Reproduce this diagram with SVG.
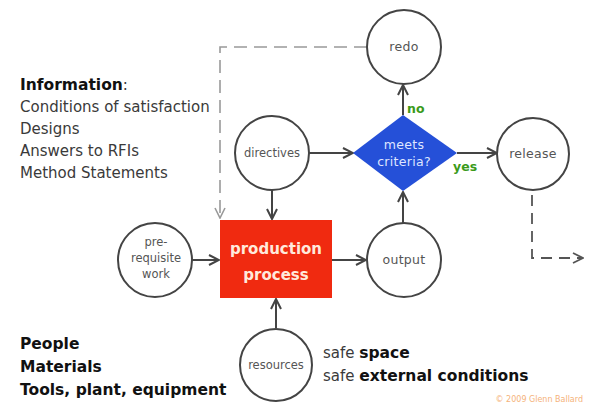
<svg xmlns="http://www.w3.org/2000/svg" width="592" height="412" viewBox="0 0 592 412">
<defs>
<style>
.node{fill:#fff;stroke:#444;stroke-width:2}
.lbl{font-family:"DejaVu Sans",Verdana,sans-serif;font-size:12.5px;letter-spacing:0.3px;fill:#555;text-anchor:middle}
.side{font-family:"DejaVu Sans",Verdana,sans-serif;font-size:15px;fill:#3a3a3a}
.b{font-weight:bold;fill:#111;font-size:15.5px}
.conn{stroke:#444;stroke-width:2;fill:none}
.dash{stroke:#999;stroke-width:1.6;fill:none;stroke-dasharray:13,7}
.dashd{stroke:#555;stroke-width:1.8;fill:none;stroke-dasharray:11,7}
.yn{font-family:"DejaVu Sans",Verdana,sans-serif;font-size:12.5px;font-weight:bold;fill:#3a9a1a}
.pp{font-family:"DejaVu Sans",Verdana,sans-serif;font-size:15px;font-weight:bold;fill:#ffe9dc;text-anchor:middle}
</style>
<marker id="ah" viewBox="0 0 12 12" refX="11" refY="6" markerWidth="12" markerHeight="12" markerUnits="userSpaceOnUse" orient="auto">
<path d="M1,1 L11,6 L1,11" fill="none" stroke="#444" stroke-width="2"/>
</marker>
<marker id="ahg" viewBox="0 0 12 12" refX="11" refY="6" markerWidth="12" markerHeight="12" markerUnits="userSpaceOnUse" orient="auto">
<path d="M1,1 L11,6 L1,11" fill="none" stroke="#999" stroke-width="1.6"/>
</marker>
<marker id="ahd" viewBox="0 0 12 12" refX="11" refY="6" markerWidth="12" markerHeight="12" markerUnits="userSpaceOnUse" orient="auto">
<path d="M1,1 L11,6 L1,11" fill="none" stroke="#555" stroke-width="1.8"/>
</marker>
</defs>
<rect width="592" height="412" fill="#fff"/>
<g id="connectors">
<path class="dash" d="M367,47 H220 V218" marker-end="url(#ahg)"/>
<path class="dashd" d="M532,195 V258 H583" marker-end="url(#ahd)"/>
<line class="conn" x1="309" y1="153" x2="353" y2="153" marker-end="url(#ah)"/>
<line class="conn" x1="272" y1="190" x2="272" y2="219" marker-end="url(#ah)"/>
<line class="conn" x1="192" y1="260" x2="219" y2="260" marker-end="url(#ah)"/>
<line class="conn" x1="332" y1="260" x2="366" y2="260" marker-end="url(#ah)"/>
<line class="conn" x1="403" y1="223" x2="403" y2="192" marker-end="url(#ah)"/>
<line class="conn" x1="403" y1="115" x2="403" y2="85" marker-end="url(#ah)"/>
<line class="conn" x1="457" y1="153" x2="497" y2="153" marker-end="url(#ah)"/>
<line class="conn" x1="276" y1="328" x2="276" y2="299" marker-end="url(#ah)"/>
</g>
<g id="redo"><circle class="node" cx="404" cy="47" r="37"/><text class="lbl" x="404" y="51">redo</text></g>
<g id="directives"><circle class="node" cx="272" cy="153" r="37"/><text class="lbl" x="272" y="157" style="font-size:11.5px;letter-spacing:0">directives</text></g>
<g id="criteria"><polygon points="403,115 457,153 403,191 353,153" fill="#2550d8"/>
<text class="lbl" x="404" y="149" style="fill:#dfe6ff">meets</text><text class="lbl" x="404" y="166" style="fill:#dfe6ff">criteria?</text></g>
<g id="release"><circle class="node" cx="533" cy="154" r="36"/><text class="lbl" x="533" y="158">release</text></g>
<g id="prerequisite"><circle class="node" cx="155" cy="260" r="37"/>
<text class="lbl" x="156" y="246" style="font-size:11.5px;letter-spacing:0">pre-</text><text class="lbl" x="156" y="262" style="font-size:11.5px;letter-spacing:0">requisite</text><text class="lbl" x="156" y="278" style="font-size:11.5px;letter-spacing:0">work</text></g>
<g id="production"><rect x="220" y="220" width="112" height="78" fill="#f02a10"/>
<text class="pp" x="276" y="254">production</text>
<text class="pp" x="276" y="280">process</text></g>
<g id="output"><circle class="node" cx="404" cy="260" r="37"/><text class="lbl" x="404" y="264">output</text></g>
<g id="resources"><circle class="node" cx="276" cy="365" r="36"/><text class="lbl" x="276" y="369" style="font-size:11.5px;letter-spacing:0">resources</text></g>
<text class="yn" x="407" y="113">no</text>
<text class="yn" x="453" y="171">yes</text>
<g id="information">
<text class="side" x="20" y="90"><tspan class="b">Information</tspan>:</text>
<text class="side" x="20" y="112">Conditions of satisfaction</text>
<text class="side" x="20" y="134">Designs</text>
<text class="side" x="20" y="156">Answers to RFIs</text>
<text class="side" x="20" y="178">Method Statements</text>
</g>
<g id="people">
<text class="side b" x="20" y="349">People</text>
<text class="side b" x="20" y="372">Materials</text>
<text class="side b" x="20" y="395">Tools, plant, equipment</text>
</g>
<g id="safe">
<text class="side" x="323" y="358">safe <tspan class="b">space</tspan></text>
<text class="side" x="323" y="381">safe <tspan class="b">external conditions</tspan></text>
</g>
<text x="583" y="402" style="font-family:'DejaVu Sans',sans-serif;font-size:8px;fill:#f5b27a;text-anchor:end">© 2009 Glenn Ballard</text>
</svg>
